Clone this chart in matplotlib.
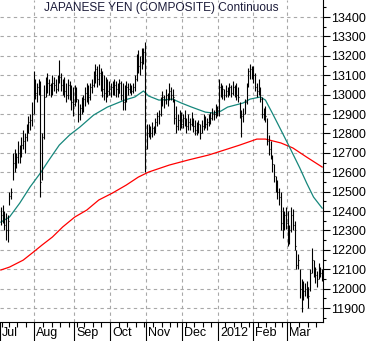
import numpy as np
import pandas as pd
import matplotlib
matplotlib.use("Agg")
import matplotlib.pyplot as plt
from matplotlib.ticker import MultipleLocator, FixedLocator, NullFormatter

plt.rcParams['font.family'] = ['Liberation Sans', 'DejaVu Sans']

# Trading days Jul 2011 - Mar 2012 (exchange holidays removed)
holidays = ['2011-07-04', '2011-09-05', '2011-11-24', '2011-12-26',
            '2012-01-02', '2012-01-16', '2012-02-20']
dates = pd.bdate_range('2011-07-01', '2012-03-29')
dates = dates[~dates.isin(pd.to_datetime(holidays))]

# Daily bars, month by month
high = [
    # Jul
    12420, 12430, 12400, 12390, 12380, 12500, 12520, 12700, 12720, 12700,
    12760, 12740, 12780, 12820, 12800, 12850, 12890, 12900, 12960, 13120,
    # Aug
    13080, 13060, 13080, 13070, 12800, 13050, 13090, 13110, 13080, 13060,
    13100, 13090, 13080, 13100, 13180, 13110, 13080, 13090, 13060, 13080,
    13070, 13050, 13040,
    # Sep
    13050, 13040, 12980, 12950, 12990, 13000, 13040, 13060, 13050, 13060,
    13080, 13120, 13160, 13150, 13160, 13140, 13120, 13100, 13090, 13080,
    13070,
    # Oct
    13060, 13070, 13080, 13070, 13060, 13080, 13070, 13060, 13050, 13070,
    13060, 13060, 13050, 13060, 13100, 13210, 13230, 13200, 13240, 13240,
    13270,
    # Nov
    12850, 12850, 12840, 12860, 12840, 12880, 12910, 12920, 12990, 13020,
    13000, 13030, 13010, 13060, 13040, 13030, 12980, 12940, 12900, 12920,
    12910,
    # Dec
    12900, 12920, 12880, 12900, 12880, 12910, 12880, 12870, 12860, 12870,
    12850, 12870, 12900, 12890, 12880, 12900, 12910, 12930, 12920, 12950,
    12940,
    # Jan
    13080, 13060, 13050, 13030, 13050, 13040, 13060, 13050, 13070, 13050,
    13060, 13040, 12960, 12920, 12930, 12980, 13060, 13140, 13160, 13150,
    # Feb
    13150, 13110, 13060, 13080, 13040, 12990, 12930, 12940, 12880, 12790,
    12760, 12690, 12640, 12580, 12560, 12520, 12500, 12420, 12400, 12420,
    # Mar
    12400, 12330, 12420, 12410, 12350, 12200, 12180, 12100, 12050, 12040,
    12030, 12040, 12010, 12100, 12210, 12150, 12110, 12090, 12130, 12110,
    12100,
]
low = [
    # Jul
    12330, 12340, 12300, 12250, 12240, 12430, 12460, 12560, 12600, 12620,
    12650, 12650, 12680, 12720, 12700, 12760, 12800, 12820, 12840, 12900,
    # Aug
    12980, 12960, 13000, 12470, 12560, 12770, 12990, 13010, 13000, 12990,
    13000, 13020, 13010, 13020, 13060, 13020, 13000, 12990, 12960, 12980,
    12970, 12920, 12890,
    # Sep
    12940, 12960, 12860, 12870, 12900, 12910, 12940, 12960, 12950, 12970,
    13010, 13040, 13060, 13040, 13050, 13020, 12990, 12970, 12960, 12990,
    13000,
    # Oct
    12990, 13000, 13000, 12990, 12990, 13010, 12970, 12920, 12920, 12960,
    13000, 13010, 13000, 13010, 13020, 13070, 13110, 13100, 13130, 13160,
    12600,
    # Nov
    12720, 12780, 12770, 12780, 12790, 12800, 12840, 12850, 12890, 12940,
    12930, 12950, 12940, 12970, 12970, 12960, 12850, 12800, 12820, 12820,
    12830,
    # Dec
    12830, 12840, 12800, 12820, 12820, 12840, 12810, 12790, 12790, 12800,
    12770, 12800, 12820, 12830, 12820, 12840, 12850, 12870, 12870, 12880,
    12890,
    # Jan
    12890, 12990, 12980, 12970, 12990, 12990, 13000, 12990, 13000, 12990,
    12970, 12960, 12880, 12780, 12860, 12900, 12950, 13040, 13080, 13080,
    # Feb
    13060, 13020, 12990, 13000, 12960, 12880, 12870, 12860, 12740, 12690,
    12670, 12600, 12550, 12500, 12460, 12430, 12300, 12260, 12300, 12310,
    # Mar
    12220, 12230, 12290, 12300, 12200, 12100, 12100, 11950, 11880, 11940,
    11960, 11950, 11900, 11990, 12080, 12060, 12030, 12010, 12050, 12060,
    12040,
]
close = [
    # Jul
    12380, 12360, 12330, 12300, 12350, 12480, 12500, 12650, 12640, 12680,
    12700, 12690, 12740, 12760, 12780, 12820, 12860, 12870, 12900, 13050,
    # Aug
    13010, 13040, 13040, 12550, 12780, 12990, 13030, 13060, 13050, 13020,
    13060, 13050, 13030, 13080, 13090, 13050, 13060, 13020, 13000, 13050,
    13010, 12960, 12950,
    # Sep
    13010, 12980, 12900, 12930, 12960, 12980, 13010, 13020, 12990, 13040,
    13050, 13090, 13130, 13080, 13110, 13060, 13030, 13010, 13040, 13020,
    13030,
    # Oct
    13040, 13020, 13050, 13030, 13010, 13060, 13000, 12960, 12990, 13040,
    13030, 13040, 13020, 13040, 13080, 13180, 13150, 13170, 13200, 13220,
    12720,
    # Nov
    12800, 12820, 12800, 12830, 12810, 12860, 12890, 12900, 12960, 12990,
    12970, 13000, 12980, 13020, 13000, 12990, 12880, 12840, 12870, 12880,
    12850,
    # Dec
    12880, 12870, 12840, 12860, 12850, 12880, 12840, 12820, 12830, 12850,
    12800, 12840, 12870, 12850, 12860, 12870, 12880, 12900, 12900, 12930,
    12920,
    # Jan
    13040, 13020, 13030, 13000, 13020, 13010, 13040, 13010, 13040, 13030,
    13000, 12990, 12900, 12890, 12900, 12960, 13050, 13120, 13130, 13120,
    # Feb
    13100, 13040, 13020, 13050, 12980, 12900, 12910, 12890, 12760, 12720,
    12700, 12640, 12580, 12520, 12500, 12470, 12340, 12300, 12380, 12340,
    # Mar
    12250, 12300, 12380, 12330, 12220, 12120, 12150, 12000, 11950, 11990,
    12000, 12010, 11960, 12080, 12150, 12080, 12070, 12050, 12100, 12080,
    12070,
]

# Moving averages, sampled by bar number
ma_short_idx = [0, 5, 11, 17, 23, 28, 34, 40, 46, 54, 62, 72, 78, 83, 86, 92,
                100, 105, 111, 119, 124, 128, 132, 141, 145, 151, 154, 158,
                163, 168, 174, 178, 182, 187]
ma_short = [12343, 12369, 12441, 12524, 12596, 12663, 12740, 12792, 12833,
            12895, 12936, 12972, 12988, 13019, 12993, 12972, 12977, 12957,
            12936, 12910, 12905, 12915, 12936, 12957, 12977, 12988, 12972,
            12905, 12818, 12730, 12622, 12544, 12472, 12415]
ma_long_idx = [0, 5, 13, 19, 24, 30, 36, 43, 50, 57, 65, 73, 80, 86, 98, 109,
               121, 132, 139, 149, 154, 163, 170, 178, 187]
ma_long = [12096, 12111, 12147, 12189, 12225, 12266, 12318, 12369, 12405,
           12457, 12493, 12534, 12575, 12601, 12637, 12663, 12689, 12720,
           12740, 12771, 12771, 12751, 12725, 12678, 12627]

month_names = ['Jul', 'Aug', 'Sep', 'Oct', 'Nov', 'Dec', '2012', 'Feb', 'Mar']

idx = np.arange(len(dates))
month_start = np.flatnonzero(np.r_[True, dates.month[1:] != dates.month[:-1]])
week_start = np.flatnonzero(np.r_[True, dates.dayofweek[1:] < dates.dayofweek[:-1]])

fig = plt.figure(figsize=(3.71, 3.41), dpi=100)
ax = fig.add_axes([0, 19 / 341, 323 / 371, 322 / 341])

grid_kw = dict(color='#a8a8a8', lw=0.8, ls=(0, (3, 3)), zorder=0)
for y in range(11900, 13401, 100):
    ax.axhline(y, **grid_kw)
for m in month_start[1:]:
    ax.axvline(m - 0.5, **grid_kw)

ax.plot(ma_long_idx, ma_long, color='#ff0000', lw=0.9, zorder=2)
ax.plot(ma_short_idx, ma_short, color='#16877c', lw=0.9, zorder=2)

ax.vlines(idx, low, high, color='black', lw=0.8, zorder=3)
ax.hlines(close, idx, idx + 0.5, color='black', lw=0.8, zorder=3)

ax.set_xlim(-0.5, len(dates) - 0.5)
ax.set_ylim(11828, 13488)

# right-hand price axis
ax.yaxis.tick_right()
ax.yaxis.set_major_locator(MultipleLocator(100))
ax.yaxis.set_minor_locator(MultipleLocator(50))
ax.tick_params(axis='y', which='major', length=5, width=0.8, pad=1, labelsize=9)
ax.tick_params(axis='y', which='minor', length=2.5, width=0.8)

# month/week ticks on the bottom
ax.xaxis.set_major_locator(FixedLocator(month_start - 0.5))
ax.xaxis.set_minor_locator(FixedLocator(week_start - 0.5))
ax.xaxis.set_major_formatter(NullFormatter())
ax.tick_params(axis='x', which='major', length=14, width=0.8)
ax.tick_params(axis='x', which='minor', length=3.5, width=0.8)
for m, name in zip(month_start, month_names):
    ax.annotate(name, xy=(m - 0.5, 0), xycoords=('data', 'axes fraction'),
                xytext=(1.5, -3.5), textcoords='offset points',
                ha='left', va='top', fontsize=9)

for s in ['left', 'top']:
    ax.spines[s].set_visible(False)
for s in ['right', 'bottom']:
    ax.spines[s].set_linewidth(0.8)

ax.text(0.5, 0.995, 'JAPANESE YEN (COMPOSITE) Continuous', transform=ax.transAxes,
        ha='center', va='top', fontsize=8.6, color='#1c1c3a')

fig.savefig('out.png', dpi=100)
